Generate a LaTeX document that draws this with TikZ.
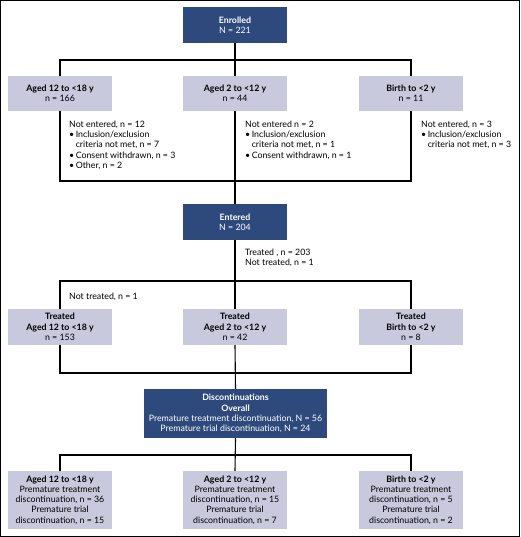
\documentclass[tikz,border=0pt]{standalone}
\usepackage{fontspec}
\setmainfont{Lato}
\definecolor{darkbox}{HTML}{2E4A7D}
\definecolor{lightbox}{HTML}{C8C9DD}
\begin{document}
\begin{tikzpicture}[x=1pt,y=-1pt,
  every node/.style={font=\fontsize{8.8}{10.3}\selectfont, inner sep=0pt},
  dbox/.style={fill=darkbox, text=white, align=center, minimum width=104pt, minimum height=36pt},
  lbox/.style={fill=lightbox, text=black, align=center, minimum width=104pt, minimum height=36pt},
  note/.style={anchor=north west, align=left},
  conn/.style={line width=1.1pt, black}]
\useasboundingbox (0,0) rectangle (520,537);
\draw[line width=0.9pt] (0.5,0.5) rectangle (519.5,536.5);

% nodes
\node[dbox] (enr) at (235,25) {\textbf{Enrolled}\\N = 221};
\node[lbox, minimum height=35pt] (a1) at (60,93.5) {\textbf{Aged 12 to <18 y}\\n = 166};
\node[lbox, minimum height=35pt] (b1) at (235,93.5) {\textbf{Aged 2 to <12 y}\\n = 44};
\node[lbox, minimum height=35pt] (c1) at (411,93.5) {\textbf{Birth to <2 y}\\n = 11};

\node[note] (na) at (69,120.5) {Not entered, n = 12\\
\textbullet\,Inclusion/exclusion\\
\phantom{\textbullet\,}criteria not met, n = 7\\
\textbullet\,Consent withdrawn, n = 3\\
\textbullet\,Other, n = 2};
\node[note] (nb) at (245,120.5) {Not entered n = 2\\
\textbullet\,Inclusion/exclusion\\
\phantom{\textbullet\,}criteria not met, n = 1\\
\textbullet\,Consent withdrawn, n = 1};
\node[note] (nc) at (421,120.5) {Not entered, n = 3\\
\textbullet\,Inclusion/exclusion\\
\phantom{\textbullet\,}criteria not met, n = 3};

\node[dbox] (ent) at (235,222) {\textbf{Entered}\\N = 204};
\node[note] (tr) at (245,248.5) {Treated , n = 203\\Not treated, n = 1};
\node[note] (ntr) at (69,292.5) {Not treated, n = 1};

\node[lbox] (a2) at (60,327) {\textbf{Treated}\\\textbf{Aged 12 to <18 y}\\n = 153};
\node[lbox] (b2) at (235,327) {\textbf{Treated}\\\textbf{Aged 2 to <12 y}\\n = 42};
\node[lbox] (c2) at (411,327) {\textbf{Treated}\\\textbf{Birth to <2 y}\\n = 8};

\node[dbox, minimum width=183pt, minimum height=49pt] (disc) at (235.5,413.5)
 {\textbf{Discontinuations}\\\textbf{Overall}\\Premature treatment discontinuation, N = 56\\Premature trial discontinuation, N = 24};

\node[lbox, minimum height=58pt] (a3) at (60,500) {\textbf{Aged 12 to <18 y}\\Premature treatment\\discontinuation, n = 36\\Premature trial\\discontinuation, n = 15};
\node[lbox, minimum height=58pt] (b3) at (235,500) {\textbf{Aged 2 to <12 y}\\Premature treatment\\discontinuation, n = 15\\Premature trial\\discontinuation, n = 7};
\node[lbox, minimum height=58pt] (c3) at (411,500) {\textbf{Birth to <2 y}\\Premature treatment\\discontinuation, n = 5\\Premature trial\\discontinuation, n = 2};

% junctions
\coordinate (h1) at (235,60);
\coordinate (h2) at (235,181);
\coordinate (h3) at (235,281);
\coordinate (h4) at (235,373);
\coordinate (h5) at (235,455);

% connectors
\draw[conn] (enr.south) -- (b1.north);
\draw[conn] (a1.north) |- (h1) -| (c1.north);
\draw[conn] (b1.south) -- (ent.north);
\draw[conn] (a1.south) |- (h2) -| (c1.south);
\draw[conn] (ent.south) -- (b2.north);
\draw[conn] (a2.north) |- (h3) -| (c2.north);
\draw[conn] (b2.south) -- (disc.north);
\draw[conn] (a2.south) |- (h4) -| (c2.south);
\draw[conn] (disc.south) -- (b3.north);
\draw[conn] (a3.north) |- (h5) -| (c3.north);
\end{tikzpicture}
\end{document}
